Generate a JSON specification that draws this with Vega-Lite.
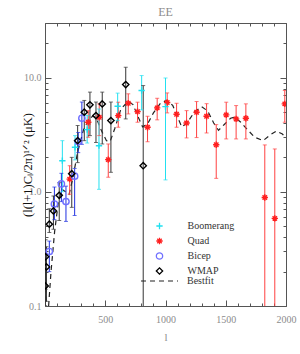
{
  "$schema": "https://vega.github.io/schema/vega-lite/v6.json",
  "width": 241,
  "height": 283,
  "autosize": {"type": "none"},
  "padding": {"left": 45, "top": 23, "right": 14, "bottom": 48},
  "background": "white",
  "title": {"text": "EE", "color": "#8c8c8c", "font": "Liberation Sans Narrow", "fontSize": 12, "fontWeight": "normal", "offset": -1, "anchor": "middle"},
  "config": {
    "view": {"stroke": "#555", "strokeWidth": 1},
    "axis": {"labelFont": "Liberation Sans Narrow", "labelFontSize": 10, "labelColor": "#8c8c8c", "tickColor": "#555", "domain": false, "grid": false, "labelOverlap": false, "labelFlush": false, "titleFontWeight": "normal"},
    "legend": {"labelFont": "Liberation Serif", "labelFontSize": 10, "labelColor": "#333"}
  },
  "datasets": {
    "pts": [
      {"exp": "Quad", "l": 205, "v": 1.29, "lo": 0.95, "hi": 1.69},
      {"exp": "Quad", "l": 359, "v": 4.06, "lo": 3.0, "hi": 5.13},
      {"exp": "Quad", "l": 450, "v": 4.49, "lo": 3.1, "hi": 5.88},
      {"exp": "Quad", "l": 525, "v": 1.91, "lo": 1.34, "hi": 2.62},
      {"exp": "Quad", "l": 608, "v": 4.64, "lo": 3.67, "hi": 6.08},
      {"exp": "Quad", "l": 691, "v": 5.96, "lo": 4.8, "hi": 7.2},
      {"exp": "Quad", "l": 768, "v": 5.03, "lo": 4.06, "hi": 6.08},
      {"exp": "Quad", "l": 851, "v": 3.67, "lo": 2.74, "hi": 4.58},
      {"exp": "Quad", "l": 931, "v": 5.42, "lo": 4.26, "hi": 6.58},
      {"exp": "Quad", "l": 1014, "v": 6.04, "lo": 4.9, "hi": 7.33},
      {"exp": "Quad", "l": 1092, "v": 4.77, "lo": 3.67, "hi": 5.95},
      {"exp": "Quad", "l": 1175, "v": 4.0, "lo": 2.96, "hi": 5.13},
      {"exp": "Quad", "l": 1258, "v": 4.97, "lo": 2.98, "hi": 6.16},
      {"exp": "Quad", "l": 1341, "v": 4.58, "lo": 3.27, "hi": 5.9},
      {"exp": "Quad", "l": 1421, "v": 2.58, "lo": 1.31, "hi": 3.87},
      {"exp": "Quad", "l": 1504, "v": 4.71, "lo": 2.9, "hi": 6.08},
      {"exp": "Quad", "l": 1586, "v": 4.34, "lo": 2.9, "hi": 5.68},
      {"exp": "Quad", "l": 1667, "v": 4.4, "lo": 2.9, "hi": 5.88},
      {"exp": "Quad", "l": 1824, "v": 0.89, "lo": 0.05, "hi": 2.57},
      {"exp": "Quad", "l": 1907, "v": 0.585, "lo": 0.05, "hi": 2.37},
      {"exp": "Quad", "l": 1990, "v": 5.88, "lo": 4.06, "hi": 7.7},
      {"exp": "Boomerang", "l": 144, "v": 1.87, "lo": 1.0, "hi": 2.8},
      {"exp": "Boomerang", "l": 249, "v": 2.45, "lo": 1.9, "hi": 3.1},
      {"exp": "Boomerang", "l": 350, "v": 3.5, "lo": 2.67, "hi": 4.65},
      {"exp": "Boomerang", "l": 448, "v": 2.53, "lo": 1.05, "hi": 5.3},
      {"exp": "Boomerang", "l": 603, "v": 5.6, "lo": 4.2, "hi": 7.3},
      {"exp": "Boomerang", "l": 802, "v": 7.7, "lo": 5.2, "hi": 10.4},
      {"exp": "Boomerang", "l": 1000, "v": 5.56, "lo": 1.27, "hi": 9.9},
      {"exp": "Bicep", "l": 36, "v": 0.3, "lo": 0.2, "hi": 0.37},
      {"exp": "Bicep", "l": 78, "v": 0.78, "lo": 0.57, "hi": 1.1},
      {"exp": "Bicep", "l": 136, "v": 1.17, "lo": 0.82, "hi": 1.45},
      {"exp": "Bicep", "l": 174, "v": 0.82, "lo": 0.55, "hi": 1.12},
      {"exp": "Bicep", "l": 246, "v": 1.37, "lo": 0.62, "hi": 1.6},
      {"exp": "Bicep", "l": 276, "v": 2.75, "lo": 2.2, "hi": 3.3},
      {"exp": "Bicep", "l": 306, "v": 4.4, "lo": 2.6, "hi": 6.1},
      {"exp": "WMAP", "l": 2, "v": 0.15, "lo": 0.05, "hi": 0.3},
      {"exp": "WMAP", "l": 5, "v": 0.27, "lo": 0.14, "hi": 0.38},
      {"exp": "WMAP", "l": 12, "v": 0.22, "lo": 0.11, "hi": 0.33},
      {"exp": "WMAP", "l": 36, "v": 0.52, "lo": 0.44, "hi": 0.71},
      {"exp": "WMAP", "l": 70, "v": 0.68, "lo": 0.47, "hi": 0.92},
      {"exp": "WMAP", "l": 118, "v": 0.93, "lo": 0.56, "hi": 1.2},
      {"exp": "WMAP", "l": 222, "v": 1.44, "lo": 0.73, "hi": 2.0},
      {"exp": "WMAP", "l": 271, "v": 2.8, "lo": 1.8, "hi": 3.8},
      {"exp": "WMAP", "l": 326, "v": 4.97, "lo": 2.8, "hi": 6.3},
      {"exp": "WMAP", "l": 373, "v": 5.77, "lo": 3.1, "hi": 7.45},
      {"exp": "WMAP", "l": 423, "v": 4.64, "lo": 2.7, "hi": 6.1},
      {"exp": "WMAP", "l": 475, "v": 5.87, "lo": 2.62, "hi": 7.45},
      {"exp": "WMAP", "l": 547, "v": 4.2, "lo": 1.48, "hi": 6.1},
      {"exp": "WMAP", "l": 670, "v": 8.67, "lo": 4.34, "hi": 12.3},
      {"exp": "WMAP", "l": 815, "v": 1.69, "lo": 0.01, "hi": 8.5}
    ],
    "fit": [
      {"name": "Bestfit", "l": 2, "v": 0.25},
      {"name": "Bestfit", "l": 5, "v": 0.22},
      {"name": "Bestfit", "l": 10, "v": 0.12},
      {"name": "Bestfit", "l": 20, "v": 0.07},
      {"name": "Bestfit", "l": 30, "v": 0.1},
      {"name": "Bestfit", "l": 50, "v": 0.2},
      {"name": "Bestfit", "l": 80, "v": 0.45},
      {"name": "Bestfit", "l": 110, "v": 0.8},
      {"name": "Bestfit", "l": 140, "v": 1.05},
      {"name": "Bestfit", "l": 170, "v": 1.0},
      {"name": "Bestfit", "l": 200, "v": 0.95},
      {"name": "Bestfit", "l": 230, "v": 1.3},
      {"name": "Bestfit", "l": 270, "v": 2.2},
      {"name": "Bestfit", "l": 320, "v": 3.5},
      {"name": "Bestfit", "l": 370, "v": 4.4},
      {"name": "Bestfit", "l": 400, "v": 4.6},
      {"name": "Bestfit", "l": 430, "v": 4.3},
      {"name": "Bestfit", "l": 470, "v": 3.4},
      {"name": "Bestfit", "l": 510, "v": 2.8},
      {"name": "Bestfit", "l": 540, "v": 2.75},
      {"name": "Bestfit", "l": 580, "v": 3.6},
      {"name": "Bestfit", "l": 630, "v": 5.3},
      {"name": "Bestfit", "l": 690, "v": 6.2},
      {"name": "Bestfit", "l": 730, "v": 5.8},
      {"name": "Bestfit", "l": 770, "v": 4.6},
      {"name": "Bestfit", "l": 810, "v": 3.7},
      {"name": "Bestfit", "l": 850, "v": 3.9},
      {"name": "Bestfit", "l": 900, "v": 4.9},
      {"name": "Bestfit", "l": 960, "v": 6.0},
      {"name": "Bestfit", "l": 1010, "v": 6.3},
      {"name": "Bestfit", "l": 1060, "v": 5.7},
      {"name": "Bestfit", "l": 1100, "v": 4.5},
      {"name": "Bestfit", "l": 1135, "v": 3.7},
      {"name": "Bestfit", "l": 1180, "v": 4.0},
      {"name": "Bestfit", "l": 1240, "v": 5.0},
      {"name": "Bestfit", "l": 1300, "v": 5.55},
      {"name": "Bestfit", "l": 1350, "v": 5.1},
      {"name": "Bestfit", "l": 1400, "v": 4.0},
      {"name": "Bestfit", "l": 1440, "v": 3.45},
      {"name": "Bestfit", "l": 1490, "v": 3.9},
      {"name": "Bestfit", "l": 1540, "v": 4.4},
      {"name": "Bestfit", "l": 1575, "v": 4.5},
      {"name": "Bestfit", "l": 1620, "v": 4.1},
      {"name": "Bestfit", "l": 1680, "v": 3.5},
      {"name": "Bestfit", "l": 1740, "v": 3.0},
      {"name": "Bestfit", "l": 1810, "v": 2.8},
      {"name": "Bestfit", "l": 1870, "v": 3.15},
      {"name": "Bestfit", "l": 1920, "v": 3.4},
      {"name": "Bestfit", "l": 1970, "v": 3.2},
      {"name": "Bestfit", "l": 2000, "v": 2.95}
    ]
  },
  "layer": [
    {
      "data": {"name": "fit"},
      "mark": {"type": "line", "color": "#222", "strokeWidth": 1.2, "clip": true},
      "encoding": {
        "x": {"field": "l", "type": "quantitative", "scale": {"domain": [0, 2000], "nice": false}, "axis": null},
        "y": {"field": "v", "type": "quantitative", "scale": {"type": "log", "domain": [0.1, 30], "nice": false}, "axis": null},
        "strokeDash": {"field": "name", "type": "nominal", "scale": {"domain": ["Bestfit"], "range": [[5, 4]]},
          "legend": {"orient": "none", "legendX": 95, "legendY": 238.5, "title": null, "padding": 0, "symbolSize": 1369, "labelOffset": 8, "symbolStrokeColor": "#222", "symbolStrokeWidth": 1.2}}
      }
    },
    {
      "data": {"name": "pts"},
      "mark": {"type": "rule", "strokeWidth": 1, "clip": true},
      "encoding": {
        "x": {"field": "l", "type": "quantitative",
          "axis": {"orient": "bottom", "values": [0,100,200,300,400,500,600,700,800,900,1000,1100,1200,1300,1400,1500,1600,1700,1800,1900,2000], "format": "d",
            "labelExpr": "datum.value % 500 == 0 && datum.value > 0 ? datum.label : ''",
            "tickSize": {"condition": {"test": "datum.value % 500 == 0", "value": -6}, "value": -3},
            "labelPadding": 14, "title": "l", "titleColor": "#8c8c8c", "titleFont": "Liberation Sans Narrow", "titleFontSize": 11, "titlePadding": 4}},
        "y": {"field": "lo", "type": "quantitative",
          "axis": {"orient": "left", "values": [0.1,0.2,0.3,0.4,0.5,0.6,0.7,0.8,0.9,1,2,3,4,5,6,7,8,9,10,20,30],
            "labelExpr": "datum.value == 0.1 ? '0.1' : datum.value == 1 ? '1.0' : datum.value == 10 ? '10.0' : ''",
            "tickSize": {"condition": {"test": "datum.value == 0.1 || datum.value == 1 || datum.value == 10", "value": -6}, "value": -3},
            "labelPadding": 10, "title": "(l(l+1)Cₗ/2π)¹ᐟ² (μK)", "titleColor": "#111", "titleFont": "Liberation Serif", "titleFontSize": 12.5, "titlePadding": -11}},
        "y2": {"field": "hi"},
        "color": {"field": "exp", "type": "nominal", "scale": {"domain": ["WMAP", "Bicep", "Quad", "Boomerang"], "range": ["#333333", "#2030e0", "#ff4040", "#22e0f0"]}, "legend": null}
      }
    },
    {
      "data": {"name": "pts"},
      "mark": {"type": "tick", "orient": "horizontal", "size": 4, "thickness": 1, "clip": true},
      "encoding": {
        "x": {"field": "l", "type": "quantitative", "axis": null},
        "y": {"field": "lo", "type": "quantitative", "axis": null},
        "color": {"field": "exp", "type": "nominal", "legend": null}
      }
    },
    {
      "data": {"name": "pts"},
      "mark": {"type": "tick", "orient": "horizontal", "size": 4, "thickness": 1, "clip": true},
      "encoding": {
        "x": {"field": "l", "type": "quantitative", "axis": null},
        "y": {"field": "hi", "type": "quantitative", "axis": null},
        "color": {"field": "exp", "type": "nominal", "legend": null}
      }
    },
    {
      "data": {"name": "pts"},
      "mark": {"type": "point", "filled": false, "strokeWidth": 1.4, "size": 40, "opacity": 1, "clip": true},
      "encoding": {
        "x": {"field": "l", "type": "quantitative",
          "axis": {"orient": "top", "values": [0,100,200,300,400,500,600,700,800,900,1000,1100,1200,1300,1400,1500,1600,1700,1800,1900,2000], "labels": false, "title": null,
            "tickSize": {"condition": {"test": "datum.value % 500 == 0", "value": -6}, "value": -3}}},
        "y": {"field": "v", "type": "quantitative",
          "axis": {"orient": "right", "values": [0.1,0.2,0.3,0.4,0.5,0.6,0.7,0.8,0.9,1,2,3,4,5,6,7,8,9,10,20,30], "labels": false, "title": null,
            "tickSize": {"condition": {"test": "datum.value == 0.1 || datum.value == 1 || datum.value == 10", "value": -6}, "value": -3}}},
        "stroke": {"field": "exp", "type": "nominal", "scale": {"domain": ["Boomerang", "Quad", "Bicep", "WMAP"], "range": ["#20e0f0", "#ff2020", "#7070ff", "#000000"]},
          "legend": {"orient": "none", "legendX": 109.5, "legendY": 198, "title": null, "padding": 0, "labelOffset": 23, "rowPadding": 3, "symbolSize": 40, "symbolStrokeWidth": 1.3}},
        "shape": {"field": "exp", "type": "nominal", "scale": {"domain": ["Boomerang", "Quad", "Bicep", "WMAP"], "range": ["M-1,0H1M0,-1V1", "M-1,0H1M0,-1V1M-0.7,-0.7L0.7,0.7M-0.7,0.7L0.7,-0.7", "circle", "diamond"]},
          "legend": {"orient": "none", "legendX": 109.5, "legendY": 198, "title": null, "padding": 0, "labelOffset": 23, "rowPadding": 3, "symbolSize": 40, "symbolStrokeWidth": 1.3}}
      }
    }
  ],
  "resolve": {"axis": {"x": "independent", "y": "independent"}}
}
